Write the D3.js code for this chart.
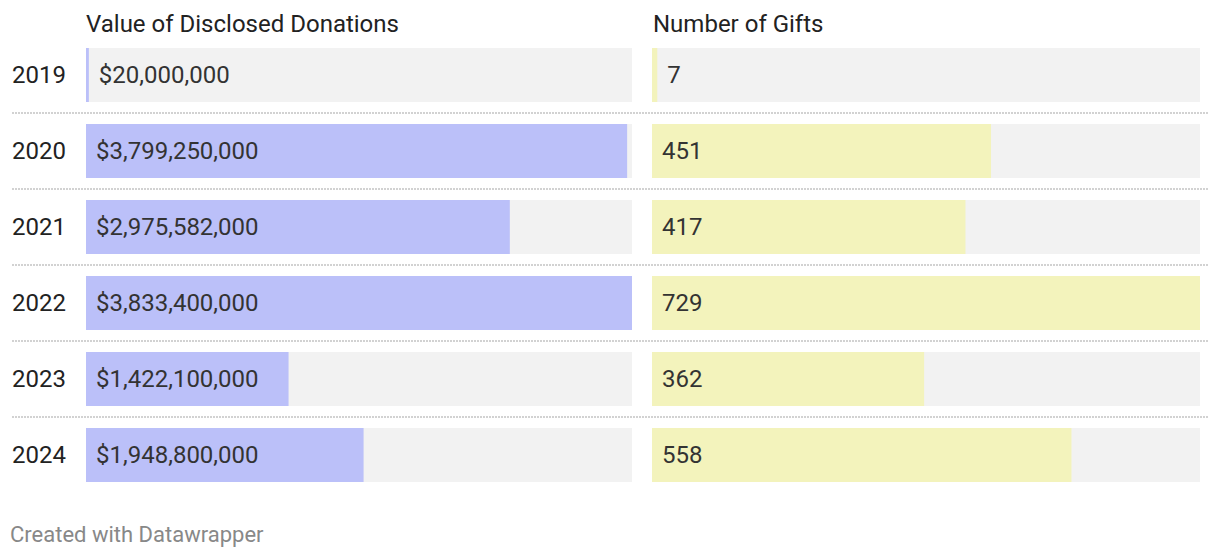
<!DOCTYPE html>
<html><head><meta charset="utf-8">
<script src="https://cdn.jsdelivr.net/npm/d3@7"></script>
<style>body{margin:0;background:#fff;font-family:Roboto,sans-serif;}</style>
</head><body><svg id="c" width="1220" height="558"></svg>
<script>
const years = ["2019","2020","2021","2022","2023","2024"];
const donations = [20000000, 3799250000, 2975582000, 3833400000, 1422100000, 1948800000];
const gifts = [7, 451, 417, 729, 362, 558];
const headers = ["Value of Disclosed Donations", "Number of Gifts"];
const footer = "Created with Datawrapper";

const svg = d3.select("#c");
const fs = 24;
const step = 76, bh = 54;
const yPos = d => 48 + years.indexOf(d) * step;

const cols = [
  {x0: 86, x1: 632, data: donations, color: "#bbc0f9", fmt: d => "$" + d3.format(",")(d)},
  {x0: 652, x1: 1200, data: gifts, color: "#f3f3bc", fmt: d3.format(",")}
];

svg.selectAll("line.sep").data(years.slice(1)).enter().append("line")
  .attr("x1", 12).attr("x2", 1208)
  .attr("y1", d => yPos(d) - 11).attr("y2", d => yPos(d) - 11)
  .attr("stroke", "#d2d2d2").attr("stroke-width", 2).attr("stroke-dasharray", "2,1");

cols.forEach((c, i) => {
  const x = d3.scaleLinear().domain([0, d3.max(c.data)]).range([c.x0, c.x1]);
  svg.append("text").attr("x", c.x0 + (i ? 1 : 0)).attr("y", 32).attr("font-size", fs).attr("fill", "#222").text(headers[i]);
  const g = svg.append("g");
  g.selectAll("rect.bg").data(years).enter().append("rect")
    .attr("x", c.x0).attr("y", d => yPos(d)).attr("width", c.x1 - c.x0).attr("height", bh).attr("fill", "#f2f2f2");
  g.selectAll("rect.bar").data(c.data).enter().append("rect")
    .attr("x", c.x0).attr("y", (d, j) => yPos(years[j])).attr("width", d => Math.max(2, x(d) - c.x0)).attr("height", bh).attr("fill", c.color);
  g.selectAll("text.v").data(c.data).enter().append("text")
    .attr("x", d => (x(d) - c.x0 < 60) ? Math.max(c.x0 + 2, x(d)) + 10 : c.x0 + 10)
    .attr("y", (d, j) => yPos(years[j]) + bh/2).attr("dy", "0.35em")
    .attr("font-size", fs).attr("fill", "#333").text(c.fmt);
});

svg.selectAll("text.yr").data(years).enter().append("text")
  .attr("x", 12).attr("y", d => yPos(d) + bh/2).attr("dy", "0.35em")
  .attr("font-size", fs).attr("fill", "#222").text(d => d);

svg.append("text").attr("x", 10).attr("y", 542).attr("font-size", 22).attr("fill", "#888").text(footer);
</script></body></html>
